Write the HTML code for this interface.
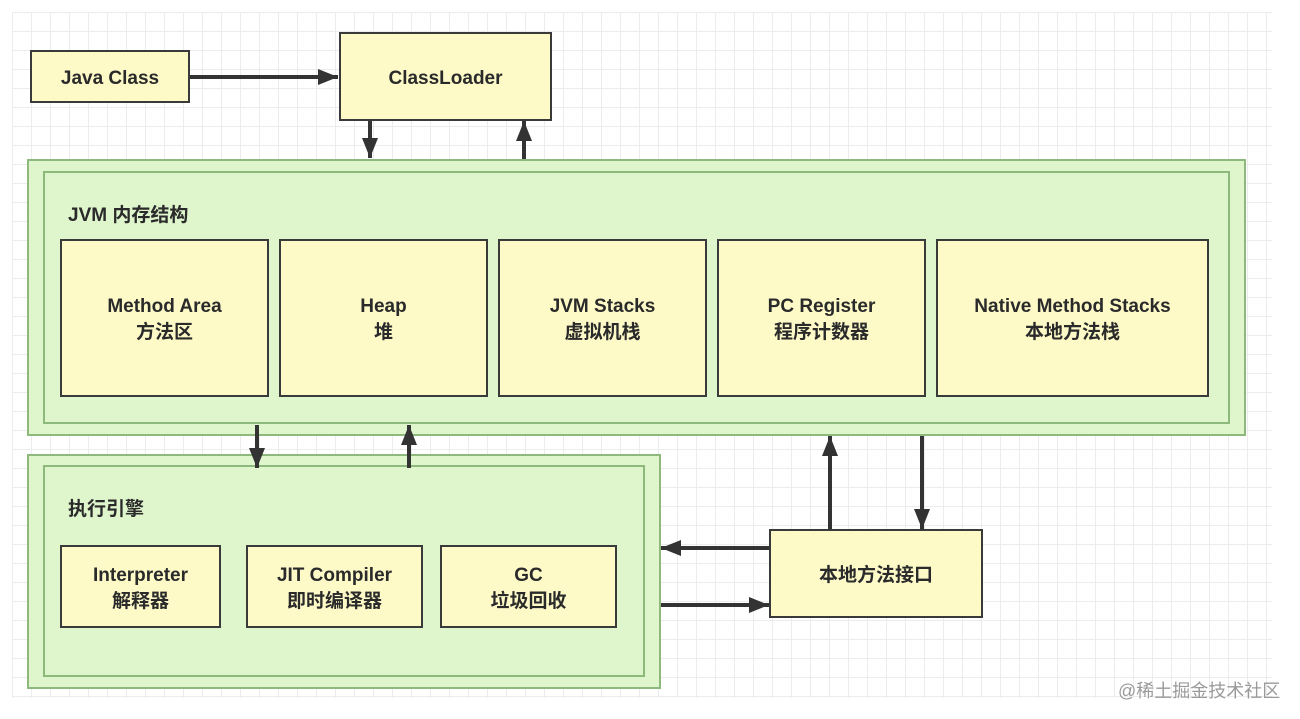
<!DOCTYPE html>
<html><head><meta charset="utf-8"><style>
body{margin:0;width:1300px;height:719px;overflow:hidden;background:#fff;font-family:"Liberation Sans","Noto Sans CJK SC",sans-serif;}
.grid{position:absolute;left:12px;top:12px;width:1260px;height:686px;
background-image:linear-gradient(#ececec 1px,transparent 1px),linear-gradient(90deg,#ececec 1px,transparent 1px);
background-size:19px 19px;}
.b{position:absolute;box-sizing:border-box;}
.y{background:#fdfac8;border:2px solid #3a3a3a;display:flex;flex-direction:column;align-items:center;justify-content:center;font-weight:bold;color:#2a2a2a;font-size:19px;line-height:26px;text-align:center;padding-top:4px;}
.g{background:#dff5cc;border:2px solid #8dba7c;}
.lab{position:absolute;font-weight:bold;font-size:19px;color:#2a2a2a;}
svg{position:absolute;left:0;top:0;}
.wm{position:absolute;left:1118px;top:677px;font-size:18px;color:#9a9a9a;}
</style></head><body>
<div class="grid"></div>
<div class="b y" style="left:30px;top:50px;width:160px;height:53px;">Java Class</div>
<div class="b y" style="left:339px;top:32px;width:213px;height:89px;">ClassLoader</div>
<div class="b g" style="left:27px;top:159px;width:1219px;height:277px;"></div>
<div class="b g" style="left:43px;top:171px;width:1187px;height:253px;"></div>
<div class="lab" style="left:68px;top:200px;">JVM 内存结构</div>
<div class="b y" style="left:60px;top:239px;width:209px;height:158px;">Method Area<br>方法区</div>
<div class="b y" style="left:279px;top:239px;width:209px;height:158px;">Heap<br>堆</div>
<div class="b y" style="left:498px;top:239px;width:209px;height:158px;">JVM Stacks<br>虚拟机栈</div>
<div class="b y" style="left:717px;top:239px;width:209px;height:158px;">PC Register<br>程序计数器</div>
<div class="b y" style="left:936px;top:239px;width:273px;height:158px;">Native Method Stacks<br>本地方法栈</div>
<div class="b g" style="left:27px;top:454px;width:634px;height:235px;"></div>
<div class="b g" style="left:43px;top:465px;width:602px;height:212px;"></div>
<div class="lab" style="left:68px;top:494px;">执行引擎</div>
<div class="b y" style="left:60px;top:545px;width:161px;height:83px;">Interpreter<br>解释器</div>
<div class="b y" style="left:246px;top:545px;width:177px;height:83px;">JIT Compiler<br>即时编译器</div>
<div class="b y" style="left:440px;top:545px;width:177px;height:83px;">GC<br>垃圾回收</div>
<div class="b y" style="left:769px;top:529px;width:214px;height:89px;">本地方法接口</div>
<svg width="1300" height="719">
<defs><marker id="a" markerWidth="5" markerHeight="4" refX="5" refY="2" orient="auto" markerUnits="strokeWidth"><path d="M0,0 L5,2 L0,4 z" fill="#333"/></marker></defs>
<g stroke="#333" stroke-width="4" fill="none" marker-end="url(#a)">
<line x1="190" y1="77" x2="338" y2="77"/>
<line x1="370" y1="121" x2="370" y2="158"/>
<line x1="524" y1="159" x2="524" y2="121"/>
<line x1="257" y1="425" x2="257" y2="468"/>
<line x1="409" y1="468" x2="409" y2="425"/>
<line x1="830" y1="529" x2="830" y2="436"/>
<line x1="922" y1="436" x2="922" y2="529"/>
<line x1="769" y1="548" x2="661" y2="548"/>
<line x1="661" y1="605" x2="769" y2="605"/>
</g></svg>
<div class="wm">@稀土掘金技术社区</div>
</body></html>
